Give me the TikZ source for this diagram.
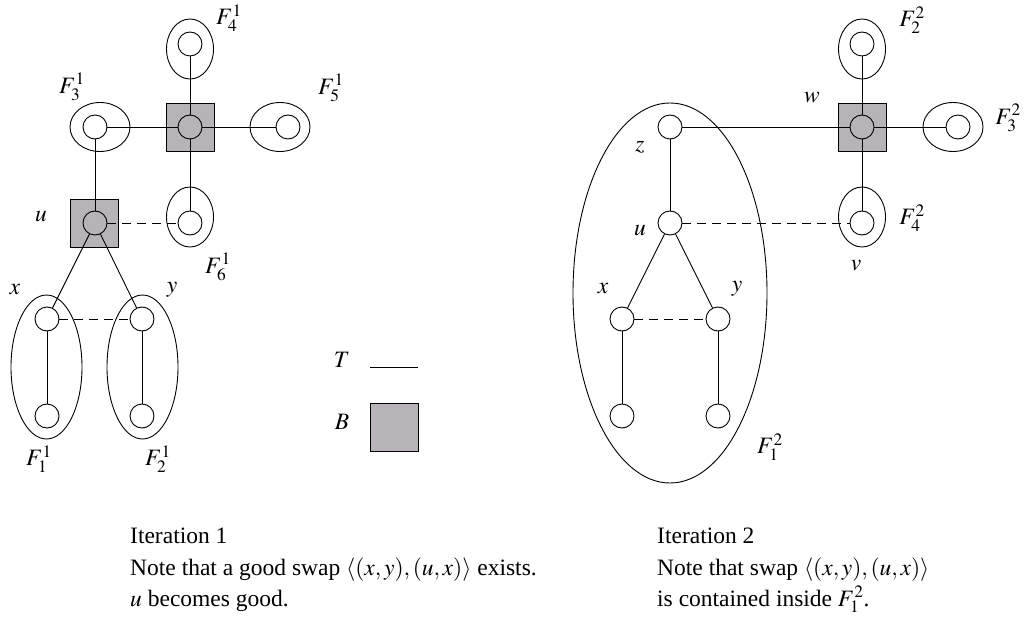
\documentclass[tikz,border=0pt]{standalone}
\usepackage{mathptmx}
\usepackage[no-math]{fontspec}
\setmainfont{Liberation Serif}
\usetikzlibrary{shapes.geometric}
\definecolor{bgray}{RGB}{184,179,184}
\begin{document}
\begin{tikzpicture}[x=1pt,y=-1pt,
  font=\fontsize{23.5}{31}\selectfont,
  vtx/.style={circle,draw,fill=white,minimum size=24pt,inner sep=0pt,line width=0.9pt},
  bsq/.style={rectangle,draw,fill=bgray,minimum size=48pt,inner sep=0pt,line width=0.9pt},
  grp/.style={ellipse,draw,inner sep=0pt,line width=0.9pt},
  tedge/.style={line width=0.9pt},
  nedge/.style={line width=0.9pt,dash pattern=on 9pt off 6pt},
  lbl/.style={inner sep=0pt}]
\useasboundingbox (0,0) rectangle (1024,620);
% ---------- Iteration 1 ----------
\node[grp,minimum width=47pt,minimum height=60pt] (e14) at (190,49) {};
\node[grp,minimum width=60pt,minimum height=49pt] (e13) at (100,127) {};
\node[grp,minimum width=60pt,minimum height=49pt] (e15) at (280,127) {};
\node[grp,minimum width=47pt,minimum height=60pt] (e16) at (190,217) {};
\node[grp,minimum width=71pt,minimum height=144pt] (e11) at (46.5,367) {};
\node[grp,minimum width=71pt,minimum height=144pt] (e12) at (142.5,367) {};
\node[bsq] (b1) at (190,127) {};
\node[bsq] (bu) at (94,223) {};
\node[vtx,fill=bgray] (c1) at (190,127) {};
\node[vtx,fill=bgray] (u1) at (95,223) {};
\node[vtx] (f4) at (190,44) {};
\node[vtx] (f3) at (95,127) {};
\node[vtx] (f5) at (288,127) {};
\node[vtx] (f6) at (190,223) {};
\node[vtx] (x1) at (47,319) {};
\node[vtx] (y1) at (142,319) {};
\node[vtx] (x1b) at (47,416) {};
\node[vtx] (y1b) at (142,416) {};
\draw[tedge] (f3) -- (c1);
\draw[tedge] (c1) -- (f4);
\draw[tedge] (c1) -- (f5);
\draw[tedge] (c1) -- (f6);
\draw[tedge] (f3) -- (u1);
\draw[tedge] (u1) -- (x1);
\draw[tedge] (u1) -- (y1);
\draw[tedge] (x1) -- (x1b);
\draw[tedge] (y1) -- (y1b);
\draw[nedge] (u1) -- (f6);
\draw[nedge] (x1) -- (y1);
\node[lbl] (l14) at (229,18) {$F_4^1$};
\node[lbl] (l13) at (72,87) {$F_3^1$};
\node[lbl] (l15) at (331,88) {$F_5^1$};
\node[lbl] (l16) at (218,267) {$F_6^1$};
\node[lbl] (l11) at (39,459) {$F_1^1$};
\node[lbl] (l12) at (158,459) {$F_2^1$};
\node[lbl] (lu1) at (41,217) {$u$};
\node[lbl] (lx1) at (15,290) {$x$};
\node[lbl] (ly1) at (172,290) {$y$};
% legend
\node[lbl] (lt) at (342,360) {$T$};
\coordinate (ta) at (370,367);
\coordinate (tb) at (418,367);
\draw[tedge] (ta) -- (tb);
\node[lbl] (lb) at (342,422) {$B$};
\node[bsq] (bleg) at (394,427) {};
% ---------- Iteration 2 ----------
\node[grp,minimum width=194pt,minimum height=380pt] (e21) at (670,293) {};
\node[grp,minimum width=47pt,minimum height=60pt] (e22) at (862,49) {};
\node[grp,minimum width=60pt,minimum height=49pt] (e23) at (953,127) {};
\node[grp,minimum width=47pt,minimum height=60pt] (e24) at (862,217) {};
\node[bsq] (bw) at (862,127) {};
\node[vtx,fill=bgray] (w) at (862,127) {};
\node[vtx] (g2) at (862,44) {};
\node[vtx] (g3) at (958,127) {};
\node[vtx] (v) at (862,223) {};
\node[vtx] (z) at (670,127) {};
\node[vtx] (u2) at (670,223) {};
\node[vtx] (x2) at (622,319) {};
\node[vtx] (y2) at (718,319) {};
\node[vtx] (x2b) at (622,416) {};
\node[vtx] (y2b) at (718,416) {};
\draw[tedge] (z) -- (w);
\draw[tedge] (w) -- (g2);
\draw[tedge] (w) -- (g3);
\draw[tedge] (w) -- (v);
\draw[tedge] (z) -- (u2);
\draw[tedge] (u2) -- (x2);
\draw[tedge] (u2) -- (y2);
\draw[tedge] (x2) -- (x2b);
\draw[tedge] (y2) -- (y2b);
\draw[nedge] (u2) -- (v);
\draw[nedge] (x2) -- (y2);
\node[lbl] (l22) at (912,20) {$F_2^2$};
\node[lbl] (l23) at (1008,118) {$F_3^2$};
\node[lbl] (l24) at (912,218) {$F_4^2$};
\node[lbl] (l21) at (770,447) {$F_1^2$};
\node[lbl] (lw) at (812,98) {$w$};
\node[lbl] (lz) at (640,147) {$z$};
\node[lbl] (lu2) at (640,231) {$u$};
\node[lbl] (lv) at (856,266) {$v$};
\node[lbl] (lx2) at (603,289) {$x$};
\node[lbl] (ly2) at (737,289) {$y$};
% ---------- captions ----------
\node[lbl,anchor=base west] (t11) at (130,543) {Iteration 1};
\node[lbl,anchor=base west] (t12) at (130,575) {Note that a good swap $\langle (x,y),(u,x)\rangle$ exists.};
\node[lbl,anchor=base west] (t13) at (130,606) {$u$ becomes good.};
\node[lbl,anchor=base west] (t21) at (657,543) {Iteration 2};
\node[lbl,anchor=base west] (t22) at (657,575) {Note that swap $\langle (x,y),(u,x)\rangle$};
\node[lbl,anchor=base west] (t23) at (657,606) {is contained inside $F_1^2$.};
\end{tikzpicture}
\end{document}
